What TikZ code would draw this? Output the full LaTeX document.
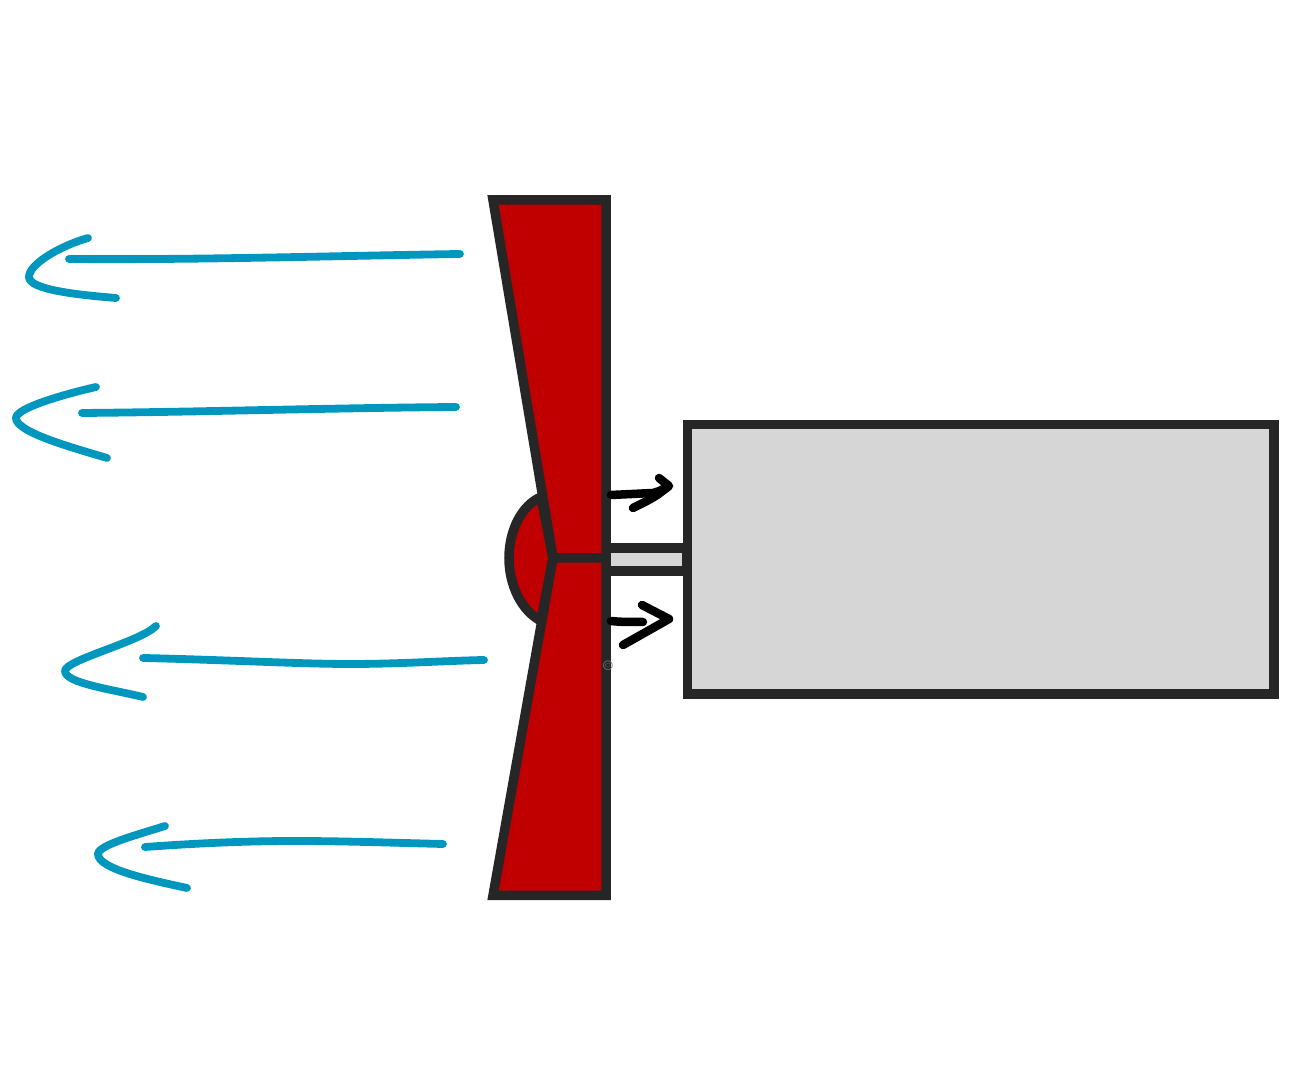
\documentclass[tikz,border=0pt]{standalone}
\usepackage{xcolor}
\definecolor{darkred}{RGB}{192,0,0}
\definecolor{lightgrey}{RGB}{214,214,214}
\definecolor{darkline}{RGB}{38,38,38}
\definecolor{flowblue}{RGB}{0,151,191}
\begin{document}
\begin{tikzpicture}[
  x=0.01cm, y=-0.01cm,
  blade/.style={draw=darkline, fill=darkred, line width=0.095cm, line join=miter},
  body/.style={draw=darkline, fill=lightgrey, line width=0.095cm},
  flow/.style={draw=flowblue, line width=0.078cm, line cap=round, line join=round},
  thrust/.style={draw=black, line width=0.085cm, line cap=round, line join=round}
]
\useasboundingbox (0,0) rectangle (1296,1080);

%% Shaft and motor
\draw[body] (606,548) rectangle (687,571);
\draw[body] (687.5,424.5) rectangle (1274,694);

%% Spinner
\draw[blade] (541,497) .. controls (522,505) and (509,530) .. (509,558)
  .. controls (509,586) and (522,611) .. (541,621) -- (553,558) -- cycle;

%% Blades
\draw[blade] (493,200) -- (606,200) -- (606,558) -- (553,558) -- cycle;
\draw[blade] (493,895.5) -- (606,895.5) -- (606,558) -- (553,558) -- cycle;

%% Thrust arrows
\draw[thrust] (611,495) -- (653,493) .. controls (660,491) .. (668,486);
\draw[thrust] (659,478) -- (669,486) .. controls (655,497) .. (633,508);
\draw[thrust] (611,621) .. controls (622,622) .. (643,622);
\draw[thrust] (642,605) -- (669,619) -- (623,645);

%% Air flow
\draw[flow] (69,259) .. controls (200,260) and (330,256) .. (460,254);
\draw[flow] (88,238) .. controls (60,246) and (29,264) .. (29,277)
  .. controls (29,290) and (80,295) .. (116,298);

\draw[flow] (82,413) .. controls (200,412) and (330,408) .. (456,407);
\draw[flow] (96,387) .. controls (65,394) and (16,408) .. (16,418)
  .. controls (16,432) and (70,447) .. (107,458);

\draw[flow] (143,658) .. controls (230,660) and (300,664) .. (350,664)
  .. controls (400,664) and (440,661) .. (484,660);
\draw[flow] (156,626) .. controls (140,642) and (65,660) .. (65,671)
  .. controls (65,683) and (110,689) .. (143,697);

\draw[flow] (145,847) .. controls (200,843) and (250,841) .. (295,841)
  .. controls (345,841) and (400,843) .. (443,844);
\draw[flow] (165,826) .. controls (140,834) and (98,845) .. (98,854)
  .. controls (98,869) and (150,880) .. (187,888);

%% Small mark
\node[inner sep=0pt, text=black!55, font=\fontsize{4}{4}\selectfont] (mark) at (608,666) {\textcopyright};

\end{tikzpicture}
\end{document}
